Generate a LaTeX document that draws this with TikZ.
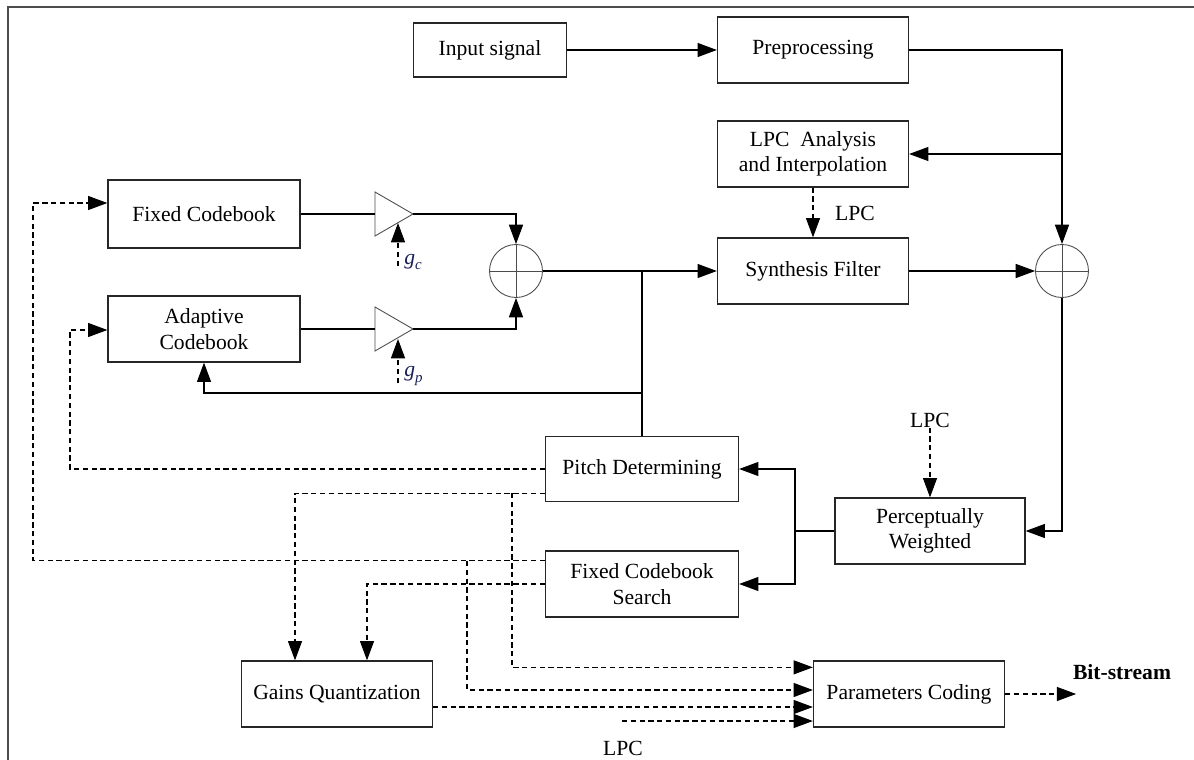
\documentclass[tikz,border=0pt]{standalone}
\usepackage{fontspec}
\setmainfont{Liberation Serif}
\usetikzlibrary{arrows.meta,calc}
\definecolor{gnavy}{rgb}{0.10,0.12,0.35}
\begin{document}
\begin{tikzpicture}[x=0.02cm,y=-0.02cm,
  font=\fontsize{12.3}{14.5}\selectfont,
  blk/.style={draw=black!85,line width=0.75pt,minimum width=3.82cm,minimum height=1.32cm,inner sep=0pt,align=center},
  lbl/.style={inner sep=0pt},
  ln/.style={line width=0.6pt},
  arr/.style={ln,-{Triangle[length=11pt,width=8pt]}},
  dln/.style={ln,dash pattern=on 3pt off 2pt},
  darr/.style={arr,dash pattern=on 3pt off 2pt},
  sumc/.style={circle,draw=black!70,line width=0.5pt,minimum size=1.06cm,inner sep=0pt},
  ampl/.style={draw=black!70,line width=0.5pt}]
\useasboundingbox (0,0) rectangle (1194,760);
% frame
\draw[black!70,line width=1pt] (8,760) -- (8,7) -- (1194,7);

% blocks
\node[blk,minimum width=3.06cm,minimum height=1.08cm] (input) at (490,50) {Input signal};
\node[blk] (prep) at (813,50) {Preprocessing};
\node[blk] (lpc) at (813,154) {LPC\ \ Analysis\\and Interpolation};
\node[blk] (synth) at (813,271) {Synthesis Filter};
\node[blk,minimum width=3.84cm,minimum height=1.36cm] (fcb) at (204,214) {Fixed Codebook};
\node[blk,minimum width=3.84cm] (acb) at (204,329) {Adaptive\\Codebook};
\node[blk,minimum width=3.86cm,minimum height=1.3cm] (pitch) at (642,469) {Pitch Determining};
\node[blk,minimum width=3.86cm] (fcs) at (642,584) {Fixed Codebook\\Search};
\node[blk,minimum width=3.8cm] (pw) at (930,531) {Perceptually\\Weighted};
\node[blk] (gq) at (337,694) {Gains Quantization};
\node[blk] (pc) at (909,694) {Parameters Coding};

% summing junctions
\node[sumc] (sum1) at (516,271) {};
\node[sumc] (sum2) at (1062,271) {};
\draw[black!70,line width=0.5pt] (sum1.north) -- (sum1.south) (sum1.west) -- (sum1.east);
\draw[black!70,line width=0.5pt] (sum2.north) -- (sum2.south) (sum2.west) -- (sum2.east);

% amplifiers
\coordinate (a1i) at (375,214); \coordinate (a1o) at (413,214);
\coordinate (a2i) at (375,329); \coordinate (a2o) at (413,329);
\draw[ampl] (375,192) -- (a1o) -- (375,236) -- cycle;
\draw[ampl] (375,307) -- (a2o) -- (375,351) -- cycle;
\coordinate (a1b) at (398,223); \coordinate (a2b) at (398,339);
\coordinate (gcs) at (398,266); \coordinate (gps) at (398,383);
\node[lbl,anchor=west,text=gnavy] (gc) at (404,262) {\textit{g}\raisebox{-2.5pt}{\fontsize{8.5}{9}\selectfont\textit{c}}};
\node[lbl,anchor=west,text=gnavy] (gp) at (404,376) {\textit{g}\raisebox{-3pt}{\fontsize{8.5}{9}\selectfont\textit{p}}};
\draw[darr] (gcs) -- (a1b);
\draw[darr] (gps) -- (a2b);

% labels
\node[lbl] (lpc1) at (855,213) {LPC};
\node[lbl] (lpc2) at (930,420) {LPC};
\node[lbl] (lpc3) at (623,748) {LPC};
\node[lbl,font=\fontsize{12.3}{14.5}\selectfont\bfseries] (bits) at (1122,672) {Bit-stream};

% solid connectors
\draw[arr] (input) -- (prep);
\draw[arr] (prep.east) -| (sum2.north);
\coordinate (br2) at (1062,154);
\draw[arr] (br2) -- (lpc.east);
\draw[darr] (lpc.south) -- (synth.north);
\draw[arr] (synth.east) -- (sum2.west);
\draw[arr] (sum2.south) |- (pw.east);

\draw[ln] (fcb.east |- a1i) -- (a1i);
\draw[ln] (acb.east |- a2i) -- (a2i);
\draw[arr] (a1o) -| (sum1.north);
\draw[arr] (a2o) -| (sum1.south);
\draw[arr] (sum1.east) -- (synth.west);
\coordinate (br1) at (642,271);
\coordinate (fb) at (642,393);
\draw[ln] (br1) -- (pitch.north);
\draw[arr] (fb) -| (acb.south);

\coordinate (br3) at (795,531);
\draw[ln] (pw.west) -- (br3);
\draw[arr] (br3) |- (pitch.east);
\draw[arr] (br3) |- (fcs.east);
\draw[darr] (lpc2.south) -- (pw.north);

% dashed connectors
\coordinate (c1) at (70,330);
\draw[darr] (pitch.west) -| (c1) -- (c1 -| acb.west);
\coordinate (fcsA) at ($(fcs.north west)+(0,10)$);
\coordinate (c2) at (33,203);
\draw[darr] (fcsA) -| (c2) -- (c2 -| fcb.west);
\coordinate (pB) at ($(pitch.south west)+(0,-9)$);
\draw[darr] (pB) -| ($(gq.north)+(-42,0)$);
\draw[darr] (fcs.west) -| ($(gq.north)+(30,0)$);
\coordinate (d1) at (512,493);
\draw[darr] (d1) |- ($(pc.north west)+(0,7)$);
\coordinate (d2) at (467,561);
\draw[darr] (d2) |- ($(pc.west)+(0,-4)$);
\draw[darr] ($(gq.east)+(0,13)$) -- ($(pc.west)+(0,13)$);
\coordinate (d3) at (622,721);
\draw[darr] (d3) -- (d3 -| pc.west);
\draw[darr] (pc.east) -- ++(71,0);
\end{tikzpicture}
\end{document}
